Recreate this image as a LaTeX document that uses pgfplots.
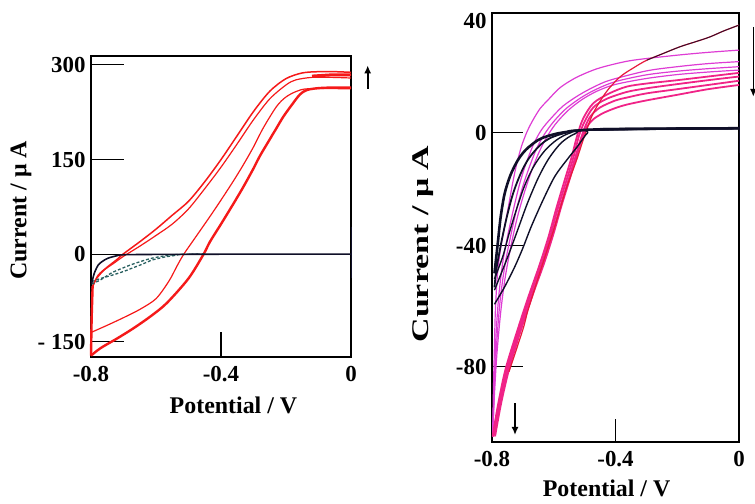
\documentclass[border=0pt]{standalone}
\usepackage{fontspec}
\setmainfont{Liberation Serif}
\usepackage{graphicx}
\usepackage{pgfplots}
\pgfplotsset{compat=1.18}
\usetikzlibrary{arrows.meta}

\definecolor{cvred}{RGB}{245,25,25}
\definecolor{cvmag}{RGB}{222,60,212}
\definecolor{cvpink}{RGB}{240,35,135}
\definecolor{cvline}{RGB}{232,25,60}
\definecolor{cvblack}{RGB}{15,15,40}
\definecolor{cvteal}{RGB}{40,95,95}

\pgfplotsset{
  cvaxis/.style={
    scale only axis, clip=false,
    xmin=-0.8, xmax=0,
    axis line style={line width=1.4bp},
    tick style={black, line width=1.2bp},
    tick align=inside,
    xtick pos=bottom, ytick pos=left,
    xtick={-0.8,0}, xticklabels={-0.8,0},
    extra x ticks={-0.4}, extra x tick labels={-0.4},
    ticklabel style={font=\bfseries\fontsize{23}{23}\selectfont},
    xticklabel style={yshift=-6bp},
    yticklabel style={xshift=-2bp},
    label style={font=\bfseries\fontsize{24}{24}\selectfont},
  }
}

\begin{document}
\begin{tikzpicture}
\useasboundingbox (0,0) rectangle (755bp,504bp);

% ---------------- left panel ----------------
\begin{axis}[cvaxis,
  at={(91bp,147bp)}, anchor=south west,
  width=260bp, height=301bp,
  ymin=-162.2, ymax=313.8,
  major tick length=33bp,
  extra x tick style={major tick length=25bp},
  ytick={-138,0,150,300}, yticklabels={- 150,0,150,300},
  xlabel={Potential / V},
  xlabel style={at={(axis description cs:0.548,-0.162)}, anchor=center},
  ylabel={Current / μ A},
  ylabel style={at={(axis description cs:-0.269,0.487)}, anchor=center, rotate=0},
]
% red loops
\addplot[cvred, line width=1.5bp, smooth] coordinates {(0,288) (-0.05,289) (-0.10,289) (-0.15,287) (-0.20,278) (-0.25,258) (-0.30,226) (-0.35,188) (-0.40,150) (-0.45,115) (-0.50,84) (-0.55,62) (-0.60,40) (-0.65,20) (-0.70,1) (-0.72,-8) (-0.75,-20) (-0.778,-33) (-0.795,-50)};
\addplot[cvred, line width=1.2bp, smooth] coordinates {(0,279) (-0.06,280) (-0.12,280) (-0.17,276) (-0.20,268) (-0.25,246) (-0.30,213) (-0.35,175) (-0.40,138) (-0.45,104) (-0.50,72) (-0.55,48) (-0.60,30) (-0.65,13) (-0.70,-3) (-0.73,-14) (-0.76,-25) (-0.785,-40) (-0.797,-55)};
\addplot[cvred, line width=2.4bp] coordinates {(-0.795,-50) (-0.798,-100) (-0.8,-160)};
\addplot[cvred, line width=2.4bp, smooth] coordinates {(-0.8,-160) (-0.77,-148) (-0.72,-133) (-0.67,-117) (-0.617,-98) (-0.567,-77) (-0.50,-38) (-0.454,0) (-0.434,20) (-0.40,48) (-0.362,80) (-0.331,107) (-0.30,136) (-0.28,156) (-0.25,182) (-0.229,200) (-0.208,218) (-0.18,238) (-0.157,253) (-0.136,260) (-0.10,263) (-0.05,264) (0,264)};
\addplot[cvred, line width=1.2bp, smooth] coordinates {(-0.798,-123) (-0.75,-112) (-0.70,-100) (-0.65,-87) (-0.60,-70) (-0.56,-42) (-0.535,-18) (-0.515,0) (-0.48,26) (-0.434,60) (-0.40,86) (-0.362,116) (-0.331,142) (-0.30,170) (-0.27,200) (-0.229,234) (-0.20,249) (-0.167,258) (-0.13,262) (0,262)};
% plateau thickening
\addplot[cvred, line width=3bp] coordinates {(-0.12,282) (-0.06,284) (0,284)};
% black / teal
\addplot[cvteal, line width=1.3bp, smooth, densely dashed] coordinates {(-0.798,-43) (-0.77,-38) (-0.736,-33) (-0.70,-27) (-0.675,-22) (-0.64,-15) (-0.613,-9) (-0.572,-4) (-0.54,-1.5) (-0.521,0) (-0.45,0.5)};
\addplot[cvteal, line width=1.3bp, smooth, densely dashed] coordinates {(-0.798,-47) (-0.77,-40) (-0.736,-29) (-0.70,-21) (-0.675,-16) (-0.64,-10) (-0.613,-6) (-0.57,-2) (-0.53,0) (-0.47,0.5)};
\addplot[cvblack, line width=1.6bp, smooth] coordinates {(0,0.5) (-0.3,0.5) (-0.6,0) (-0.70,-0.5) (-0.72,-2) (-0.748,-6) (-0.765,-11) (-0.778,-17) (-0.79,-30) (-0.798,-46)};
\addplot[cvblack, line width=1bp] coordinates {(0,43) (0,-38)};
% arrow
\draw[line width=1.6bp, -{Latex[length=8bp,width=7bp]}] (axis cs:0.0514,262) -- (axis cs:0.0514,299);
\end{axis}

% ---------------- right panel ----------------
\begin{axis}[cvaxis,
  at={(492bp,62bp)}, anchor=south west,
  width=247bp, height=429bp,
  ymin=-110, ymax=42.6,
  major tick length=31bp,
  extra x tick style={major tick length=23bp},
  ytick={-83.2,-40.2,0}, yticklabels={-80,-40,0},
  extra y ticks={39.7}, extra y tick labels={40},
  extra y tick style={major tick length=0bp},
  xlabel={Potential / V},
  xlabel style={at={(axis description cs:0.464,-0.089)}, anchor=north, inner sep=0pt},
  ylabel={\scalebox{1.42}[1]{Current / μ A}},
  ylabel style={at={(axis description cs:-0.279,0.4615)}, anchor=center, rotate=0},
]
% magenta reverse family
\addplot[cvmag, line width=1.2bp, smooth] coordinates {(0,29.4) (-0.1,28.6) (-0.2,27.6) (-0.343,25.8) (-0.42,24) (-0.472,22.3) (-0.53,19.5) (-0.58,16) (-0.62,11.5) (-0.645,8.5) (-0.67,4) (-0.688,0) (-0.705,-5) (-0.722,-12) (-0.735,-19) (-0.748,-27) (-0.76,-34) (-0.772,-41) (-0.782,-50) (-0.789,-63) (-0.793,-80) (-0.796,-95) (-0.798,-108)};
\addplot[cvmag, line width=1.2bp, smooth] coordinates {(0,25.3) (-0.1,24.6) (-0.2,23.5) (-0.3,22) (-0.418,18.7) (-0.47,16.3) (-0.52,13.3) (-0.57,9.5) (-0.61,5) (-0.64,1) (-0.665,-4) (-0.69,-11) (-0.71,-18) (-0.73,-27) (-0.748,-36) (-0.765,-46) (-0.778,-58) (-0.787,-72) (-0.793,-90) (-0.797,-108)};
\addplot[cvmag, line width=1.2bp, smooth] coordinates {(0,23.5) (-0.1,22.8) (-0.2,21.9) (-0.3,20.6) (-0.40,18.2) (-0.46,15.6) (-0.51,12.6) (-0.56,8.6) (-0.60,4) (-0.63,-0.5) (-0.655,-5.5) (-0.68,-12.5) (-0.70,-19) (-0.72,-27) (-0.74,-37) (-0.758,-47) (-0.774,-60) (-0.786,-77) (-0.794,-96) (-0.798,-108)};
\addplot[cvmag, line width=1.2bp, smooth] coordinates {(0,22.3) (-0.1,21.6) (-0.2,20.7) (-0.3,19.3) (-0.40,17.2) (-0.46,14.8) (-0.51,11.7) (-0.555,7.8) (-0.595,3) (-0.625,-2) (-0.65,-7.5) (-0.675,-14.5) (-0.70,-23) (-0.72,-31) (-0.74,-41) (-0.758,-52) (-0.772,-64) (-0.785,-80) (-0.794,-97) (-0.798,-108)};
% pink forward band
\addplot[cvpink, line width=1.8bp, smooth] coordinates {(-0.79,-108) (-0.77,-96) (-0.742,-83) (-0.70,-68) (-0.666,-57) (-0.63,-46) (-0.601,-36) (-0.575,-26) (-0.547,-16) (-0.525,-8) (-0.505,-1) (-0.49,2.5) (-0.472,4.8) (-0.44,7) (-0.40,8.8) (-0.364,10) (-0.30,11.5) (-0.2,13.5) (-0.1,15.5) (0,17)};
\addplot[cvpink, line width=1.8bp, smooth] coordinates {(-0.795,-108) (-0.775,-97) (-0.748,-84) (-0.706,-69) (-0.672,-58) (-0.636,-47) (-0.607,-37) (-0.581,-27) (-0.553,-17) (-0.531,-9) (-0.512,-2) (-0.497,2.5) (-0.48,6) (-0.45,9) (-0.40,11.5) (-0.364,12.5) (-0.3,14) (-0.2,15.5) (-0.1,17) (0,18.5)};
\addplot[cvpink, line width=1.8bp, smooth] coordinates {(-0.797,-108) (-0.778,-97) (-0.752,-84) (-0.71,-69) (-0.677,-58) (-0.641,-47) (-0.612,-37) (-0.587,-27) (-0.559,-17) (-0.537,-9) (-0.518,-1) (-0.50,4) (-0.472,9) (-0.43,12) (-0.364,14.5) (-0.3,15.8) (-0.2,17.3) (-0.1,18.7) (0,20)};
\addplot[cvpink, line width=1.8bp, smooth] coordinates {(-0.798,-108) (-0.781,-97) (-0.756,-84) (-0.714,-69) (-0.681,-58) (-0.646,-47) (-0.617,-37) (-0.592,-27) (-0.565,-17) (-0.543,-9) (-0.524,-1) (-0.505,5) (-0.472,10.5) (-0.42,14) (-0.364,16.4) (-0.3,17.5) (-0.2,18.7) (-0.1,20) (0,21.3)};
% red steep line
\addplot[cvline, line width=1.2bp, smooth] coordinates {(-0.745,-85) (-0.70,-70) (-0.683,-63) (-0.64,-48) (-0.597,-33.4) (-0.56,-20) (-0.526,-9.7) (-0.50,-1) (-0.472,7) (-0.43,14.5) (-0.385,19.9) (-0.34,23.2) (-0.299,25.8) (-0.25,28) (-0.191,30.6) (-0.14,32.4) (-0.094,34.1) (-0.05,36.2) (0,38.3)};
\addplot[cvblack, line width=0.9bp, smooth, opacity=0.85] coordinates {(-0.299,25.8) (-0.25,28) (-0.191,30.6) (-0.14,32.4) (-0.094,34.1) (-0.05,36.2) (0,38.3)};
% black family
\addplot[cvblack, line width=2.6bp, smooth] coordinates {(0,1.6) (-0.2,1.5) (-0.4,1.3) (-0.5,1) (-0.576,0) (-0.62,-1.2) (-0.651,-2.6) (-0.69,-6) (-0.716,-9.7) (-0.74,-15) (-0.759,-21.6) (-0.772,-30) (-0.781,-39) (-0.792,-50)};
\addplot[cvblack, line width=1.8bp, smooth] coordinates {(0,1.6) (-0.5,1) (-0.56,0) (-0.61,-1.8) (-0.645,-4.5) (-0.68,-9) (-0.705,-14) (-0.73,-21) (-0.75,-29) (-0.768,-38) (-0.785,-48) (-0.792,-55)};
\addplot[cvblack, line width=1.4bp, smooth] coordinates {(0,1.6) (-0.48,1) (-0.545,0) (-0.59,-2.5) (-0.63,-6.5) (-0.665,-12) (-0.695,-19) (-0.72,-27) (-0.745,-36) (-0.765,-44) (-0.792,-52)};
\addplot[cvblack, line width=1.4bp, smooth] coordinates {(0,1.6) (-0.47,1) (-0.53,-0.3) (-0.575,-3.5) (-0.615,-9) (-0.65,-16) (-0.685,-25) (-0.715,-34) (-0.745,-43) (-0.77,-50) (-0.792,-56)};
\addplot[cvblack, line width=1.4bp, smooth] coordinates {(0,1.6) (-0.46,1) (-0.49,0) (-0.524,-5) (-0.56,-10) (-0.597,-15.6) (-0.635,-24) (-0.673,-33.4) (-0.70,-41) (-0.726,-47.6) (-0.76,-55) (-0.792,-61)};
\addplot[cvblack, line width=2.4bp] coordinates {(-0.45,1.3) (0,1.6)};
\addplot[cvblack, line width=1.6bp] coordinates {(0.002,7) (0.002,-7.2)};
% arrows
\draw[line width=1.6bp, -{Latex[length=8bp,width=7bp]}] (axis cs:0.0463,37.7) -- (axis cs:0.0463,12.8);
\draw[line width=1.6bp, -{Latex[length=8bp,width=7bp]}] (axis cs:-0.7255,-96.2) -- (axis cs:-0.7255,-107.5);
\end{axis}
\end{tikzpicture}
\end{document}
